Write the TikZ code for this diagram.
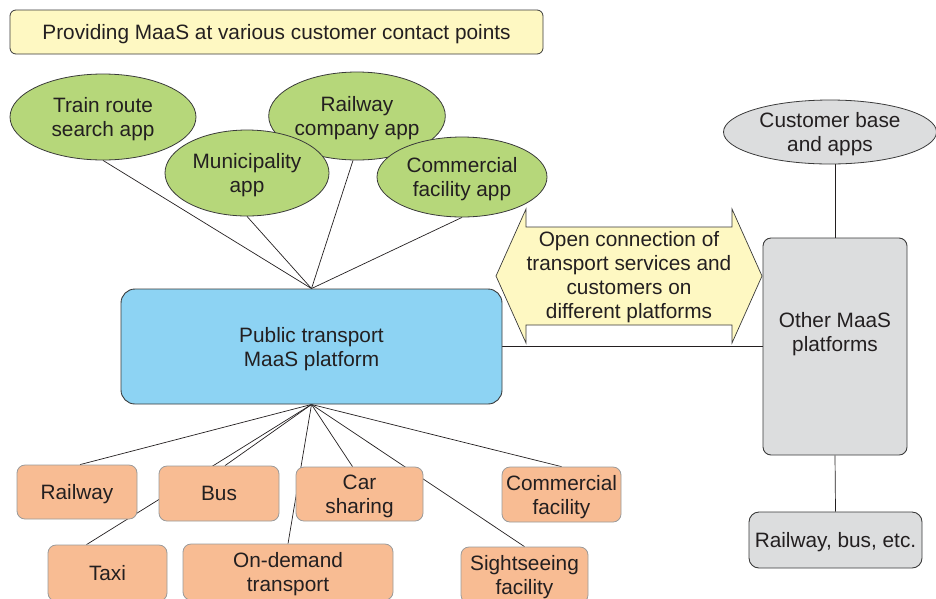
\documentclass[tikz,border=0pt]{standalone}
\usepackage{fontspec}
\setmainfont{Liberation Sans}
\usetikzlibrary{shapes.geometric,backgrounds}

\definecolor{txt}{HTML}{231F20}
\definecolor{edge}{HTML}{3A3A3A}
\definecolor{softedge}{HTML}{9A9A9A}
\definecolor{titlefill}{HTML}{FEF8C2}
\definecolor{appgreen}{HTML}{B6D77A}
\definecolor{hubblue}{HTML}{8DD3F3}
\definecolor{svcorange}{HTML}{F8BC93}
\definecolor{othergray}{HTML}{DCDDDE}

\begin{document}
\begin{tikzpicture}[x=1pt,y=-1pt,
  font=\fontsize{20.8}{24}\selectfont, text=txt,
  every node/.append style={text depth=-1.7pt},
  app/.style={ellipse, draw=edge, fill=appgreen, line width=0.8pt,
    inner sep=0pt, align=center},
  svc/.style={rectangle, rounded corners=8pt, draw=softedge, fill=svcorange,
    line width=0.8pt, inner sep=0pt, align=center},
  greybox/.style={rectangle, draw=edge, fill=othergray, line width=0.9pt,
    inner sep=0pt, align=center},
  link/.style={draw=txt, line width=0.7pt}]

\useasboundingbox (0,0) rectangle (936,598);

% heading
\node[rectangle, rounded corners=6pt, draw=edge, fill=titlefill, line width=0.8pt,
  minimum width=533pt, minimum height=44pt, inner sep=0pt] (title) at (276.5,32)
  {Providing MaaS at various customer contact points};

% customer-facing apps
\node[app, minimum width=186pt, minimum height=86pt] (train) at (103,117)
  {Train route\\search app};
\node[app, minimum width=176pt, minimum height=88pt] (railco) at (357,116)
  {Railway\\company app};
\node[app, minimum width=164pt, minimum height=86pt] (muni) at (247,173)
  {Municipality\\app};
\node[app, minimum width=170pt, minimum height=80pt] (commapp) at (462,177)
  {Commercial\\facility app};

% central platform
\node[rectangle, rounded corners=14pt, draw=edge, fill=hubblue, line width=0.9pt,
  minimum width=381pt, minimum height=115pt, inner sep=0pt, align=center]
  (maas) at (311.5,346.5) {Public transport\\MaaS platform};

% open connection double arrow
\filldraw[fill=titlefill, draw=edge, line width=0.7pt]
  (496,276) -- (526,209) -- (526,227) -- (732,227) -- (732,209) -- (762,276)
  -- (732,343) -- (732,325) -- (526,325) -- (526,343) -- cycle;
\node[align=center, inner sep=0pt] (opentext) at (629,275)
  {Open connection of\\transport services and\\customers on\\different platforms};

% other platforms
\node[ellipse, draw=edge, fill=othergray, line width=0.8pt, inner sep=0pt,
  minimum width=213pt, minimum height=64pt, align=center]
  (custbase) at (830,132) {Customer base\\and apps};
\node[greybox, rounded corners=8pt, minimum width=144pt, minimum height=217pt,
  text depth=30pt]
  (other) at (835,346.5) {Other MaaS\\platforms};
\node[greybox, rounded corners=10pt, minimum width=173pt, minimum height=56pt]
  (railbus) at (835.5,540) {Railway, bus, etc.};

% transport services
\node[svc, minimum width=120pt, minimum height=54pt] (railway) at (77,492) {Railway};
\node[svc, minimum width=120pt, minimum height=55pt] (bus) at (219,493.5) {Bus};
\node[svc, minimum width=127pt, minimum height=54pt] (carshare) at (359.5,494)
  {Car\\sharing};
\node[svc, minimum width=119pt, minimum height=55pt] (commfac) at (561.5,494.5)
  {Commercial\\facility};
\node[svc, minimum width=119pt, minimum height=56pt] (taxi) at (107.5,573) {Taxi};
\node[svc, minimum width=210pt, minimum height=56pt] (ondemand) at (288,572)
  {On-demand\\transport};
\node[svc, minimum width=127pt, minimum height=56pt] (sightsee) at (524.5,575)
  {Sightseeing\\facility};

% connectors, kept behind the shapes
\begin{scope}[on background layer]
  \draw[link] (maas.north) -- (train.south);
  \draw[link] (maas.north) -- (muni.south);
  \draw[link] (maas.north) -- ([xshift=-4pt]railco.south);
  \draw[link] (maas.north) -- (commapp.south);

  \draw[link] (maas.south) -- ([xshift=3pt]railway.north);
  \draw[link] (maas.south) -- ([xshift=6pt]bus.north);
  \draw[link] (maas.south) -- ([xshift=-21pt]taxi.north);
  \draw[link] (maas.south) -- (ondemand.north);
  \draw[link] (maas.south) -- ([xshift=-7pt]carshare.north);
  \draw[link] (maas.south) -- (sightsee.north);
  \draw[link] (maas.south) -- (commfac.north);

  \draw[link] (maas.east) -- (other.west);
  \draw[link] (other.north) -- (other.north |- custbase.south);
  \draw[link] (other.south) -- (railbus.north);
\end{scope}
\end{tikzpicture}
\end{document}
